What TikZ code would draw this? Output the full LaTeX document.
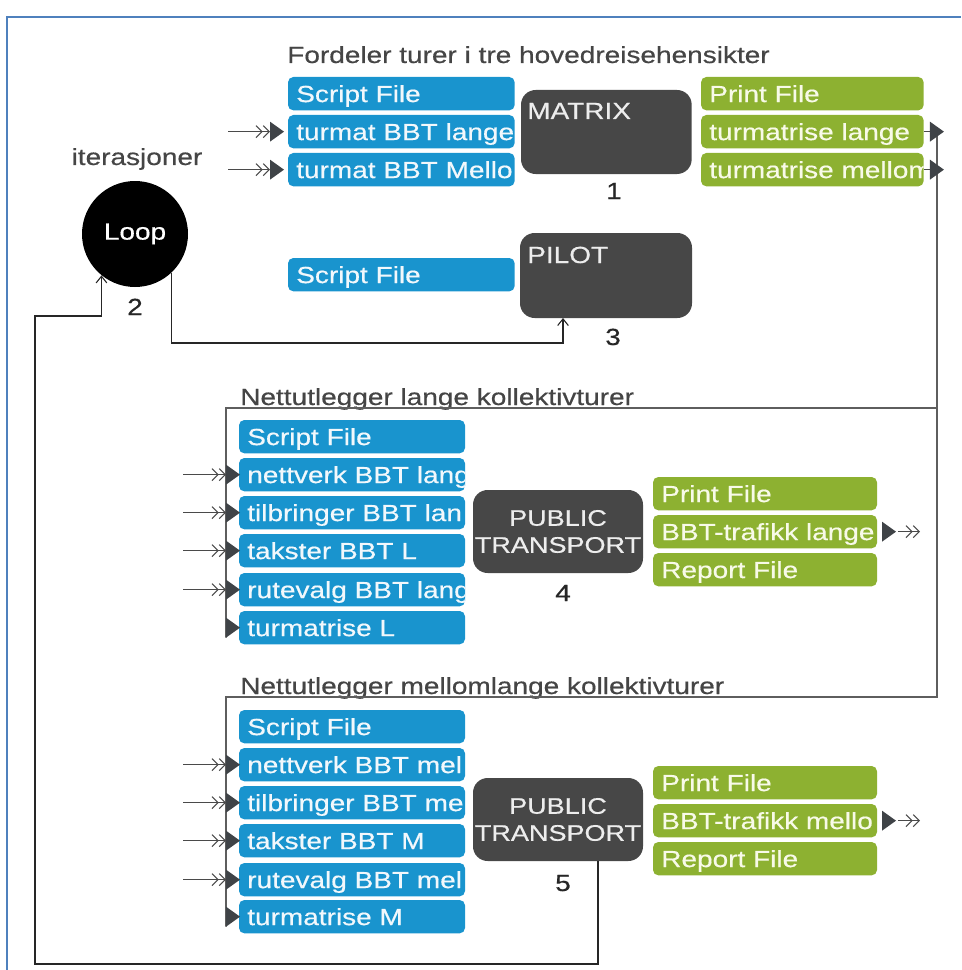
\documentclass[tikz,border=0pt]{standalone}
\usepackage{fontspec}
\setmainfont{Liberation Sans}[FakeStretch=1.2,FakeBold=0.5]
\usetikzlibrary{arrows.meta}
\definecolor{boxblue}{HTML}{1994CE}
\definecolor{boxgreen}{HTML}{8DB131}
\definecolor{boxdark}{HTML}{474747}
\definecolor{bluetext}{HTML}{F2F8FC}
\definecolor{greentext}{HTML}{F8FAE8}
\definecolor{progtxt}{HTML}{EDEDED}
\definecolor{txtgray}{HTML}{454545}
\definecolor{numcol}{HTML}{262626}
\definecolor{linegray}{HTML}{4A4A4A}
\definecolor{tricol}{HTML}{3F4347}
\definecolor{framegray}{HTML}{5E5E5E}
\definecolor{pageblue}{HTML}{4F81BD}
\newcommand\labbox[5]{%
  \node[#1] (#2) at (#3) {};
  \begin{scope}
    \clip (#2.north west) rectangle (#2.south east);
    \node[anchor=base west,inner sep=0pt,text=#5] at ([xshift=6pt,yshift=-6.3pt]#2.west) {#4};
  \end{scope}}
\newcommand\tri[2]{%
  \coordinate (#1) at (#2);
  \fill[tricol] ([yshift=7.5pt]#1) -- ([xshift=10.5pt]#1) -- ([yshift=-7.5pt]#1) -- cycle;}
\begin{document}
\begin{tikzpicture}[x=0.75pt,y=-0.75pt,
  every node/.style={font=\fontsize{17.5}{20.25}\selectfont},
  filebox/.style={rounded corners=4pt,inner sep=0pt,outer sep=0pt,anchor=north west,minimum height=25pt},
  bluefile/.style={filebox,fill=boxblue,minimum width=170pt},
  bluefileb/.style={filebox,fill=boxblue,minimum width=169.5pt},
  greenfile/.style={filebox,fill=boxgreen,minimum width=167pt},
  greenfileb/.style={filebox,fill=boxgreen,minimum width=168pt},
  prog/.style={rounded corners=11pt,fill=boxdark,inner sep=0pt,outer sep=0pt,anchor=north west,minimum width=128pt,minimum height=63pt},
  progtext/.style={text=progtxt,inner sep=0pt,anchor=base west},
  ptbox/.style={prog,minimum width=127.5pt,minimum height=62.25pt,align=center,text=progtxt,font=\fontsize{16.9}{20.25}\selectfont},
  caption/.style={text=txtgray,inner sep=0pt,anchor=base west},
  num/.style={text=numcol,inner sep=0pt,anchor=base},
  conn/.style={draw=linegray,line width=0.9pt},
  inarrow/.style={conn,-{Straight Barb[length=4.5pt,width=9pt,line width=0.8pt] Straight Barb[length=4.5pt,width=9pt,line width=0.8pt]}},
  frameline/.style={draw=framegray,line width=1.3pt},
  loopline/.style={draw=black!85,line width=0.9pt,-{Straight Barb[length=5pt,width=8pt,line width=0.8pt]}},
]
\useasboundingbox (0,0) rectangle (961,970);
\draw[pageblue,line width=1.6pt] (7,970) -- (7,17) -- (961,17);

% ---------- module 1 : MATRIX ----------
\node[caption] (title1) at (287,63) {Fordeler turer i tre hovedreisehensikter};
\labbox{bluefile}{m1s}{288,77}{Script File}{bluetext}
\labbox{bluefile}{m1a}{288,115}{turmat BBT lange}{bluetext}
\labbox{bluefile}{m1b}{288,153}{turmat BBT Mello}{bluetext}
\node[prog] (matrix) at (521,90) {};
\node[progtext] (matrixtxt) at (527,119) {MATRIX};
\node[num] (n1) at (614,199) {1};
\labbox{greenfile}{m1p}{701,77}{Print File}{greentext}
\labbox{greenfile}{m1ol}{701,115}{turmatrise lange}{greentext}
\labbox{greenfile}{m1om}{701,153}{turmatrise mellom}{greentext}

% ---------- loop ----------
\node[caption,anchor=base] (iter) at (137,165) {iterasjoner};
\node[circle,fill=black,minimum size=79.5pt,inner sep=0pt,text=white] (loop) at (135,234) {Loop};
\node[num] (n2) at (135,315) {2};

% ---------- module 3 : PILOT ----------
\labbox{bluefile}{m3s}{288,258}{Script File}{bluetext}
\node[prog,minimum width=129pt,minimum height=63.75pt] (pilot) at (520,233) {};
\node[progtext] (pilottxt) at (527,263) {PILOT};
\node[num] (n3) at (613,345) {3};

% ---------- module 4 ----------
\node[caption] (title4) at (240,405) {Nettutlegger lange kollektivturer};
\labbox{bluefileb}{m4s}{239,420}{Script File}{bluetext}
\labbox{bluefileb}{m4a}{239,458}{nettverk BBT lang}{bluetext}
\labbox{bluefileb}{m4b}{239,496}{tilbringer BBT lan}{bluetext}
\labbox{bluefileb}{m4c}{239,534}{takster BBT L}{bluetext}
\labbox{bluefileb}{m4d}{239,573}{rutevalg BBT lang}{bluetext}
\labbox{bluefileb}{m4e}{239,611}{turmatrise L}{bluetext}
\node[ptbox] (pt4) at (473,490) {PUBLIC\\TRANSPORT};
\node[num] (n4) at (563,601) {4};
\labbox{greenfileb}{m4p}{653,477}{Print File}{greentext}
\labbox{greenfileb}{m4o}{653,515}{BBT-trafikk lange}{greentext}
\labbox{greenfileb}{m4r}{653,553}{Report File}{greentext}

% ---------- module 5 ----------
\node[caption] (title5) at (240,694) {Nettutlegger mellomlange kollektivturer};
\labbox{bluefileb}{m5s}{239,710}{Script File}{bluetext}
\labbox{bluefileb}{m5a}{239,748}{nettverk BBT mel}{bluetext}
\labbox{bluefileb}{m5b}{239,786}{tilbringer BBT me}{bluetext}
\labbox{bluefileb}{m5c}{239,824}{takster BBT M}{bluetext}
\labbox{bluefileb}{m5d}{239,863}{rutevalg BBT mel}{bluetext}
\labbox{bluefileb}{m5e}{239,900}{turmatrise M}{bluetext}
\node[ptbox] (pt5) at (473,778) {PUBLIC\\TRANSPORT};
\node[num] (n5) at (563,891) {5};
\labbox{greenfileb}{m5p}{653,766}{Print File}{greentext}
\labbox{greenfileb}{m5o}{653,804}{BBT-trafikk mello}{greentext}
\labbox{greenfileb}{m5r}{653,842}{Report File}{greentext}

% ---------- connectors (lines first) ----------
\coordinate (t1ol) at ([xshift=4.7pt]m1ol.east);
\coordinate (t1om) at ([xshift=4.7pt]m1om.east);
\coordinate (t4e) at ([xshift=-9.75pt]m4e.west);
\coordinate (t5e) at ([xshift=-9.75pt]m5e.west);
\draw[frameline] ([xshift=5.25pt]t1ol) -- (937,408) -| ([yshift=-7.5pt]t4e);
\draw[frameline] ([xshift=5.25pt]t1om) -- (937,697) -| ([yshift=-7.5pt]t5e);
\draw[conn] (m1ol.east) -- (t1ol);
\draw[conn] (m1om.east) -- (t1om);

\draw[loopline] ([xshift=30pt]pt5.south) -- ++(0,103) -| (35,316) -| (loop.231);
\draw[loopline] (loop.-47) -- ++(0,70) -| ([xshift=-32.25pt]pilot.south);

% input arrows
\coordinate (t1a) at ([xshift=-13.5pt]m1a.west);
\coordinate (t1b) at ([xshift=-13.5pt]m1b.west);
\coordinate (s1a) at ([xshift=-31.5pt]t1a);
\coordinate (s1b) at ([xshift=-31.5pt]t1b);
\draw[inarrow] (s1a) -- (t1a);
\draw[inarrow] (s1b) -- (t1b);
\foreach \r in {a,b,c,d}{
  \coordinate (t4\r) at ([xshift=-9.75pt]m4\r.west);
  \coordinate (s4\r) at ([xshift=-32pt]t4\r);
  \draw[inarrow] (s4\r) -- (t4\r);
  \coordinate (t5\r) at ([xshift=-9.75pt]m5\r.west);
  \coordinate (s5\r) at ([xshift=-32pt]t5\r);
  \draw[inarrow] (s5\r) -- (t5\r);
}
% output arrows of modules 4 and 5
\coordinate (t4o) at ([xshift=3.75pt]m4o.east);
\coordinate (t5o) at ([xshift=3.75pt]m5o.east);
\coordinate (e4o) at ([xshift=28.5pt]t4o);
\coordinate (e5o) at ([xshift=28.5pt]t5o);
\draw[inarrow] ([xshift=12pt]t4o) -- (e4o);
\draw[inarrow] ([xshift=12pt]t5o) -- (e5o);

% triangles
\tri{T1a}{t1a}\tri{T1b}{t1b}
\tri{T1ol}{t1ol}\tri{T1om}{t1om}
\tri{T4a}{t4a}\tri{T4b}{t4b}\tri{T4c}{t4c}\tri{T4d}{t4d}\tri{T4e}{t4e}
\tri{T5a}{t5a}\tri{T5b}{t5b}\tri{T5c}{t5c}\tri{T5d}{t5d}\tri{T5e}{t5e}
\tri{T4o}{t4o}\tri{T5o}{t5o}
\end{tikzpicture}
\end{document}
